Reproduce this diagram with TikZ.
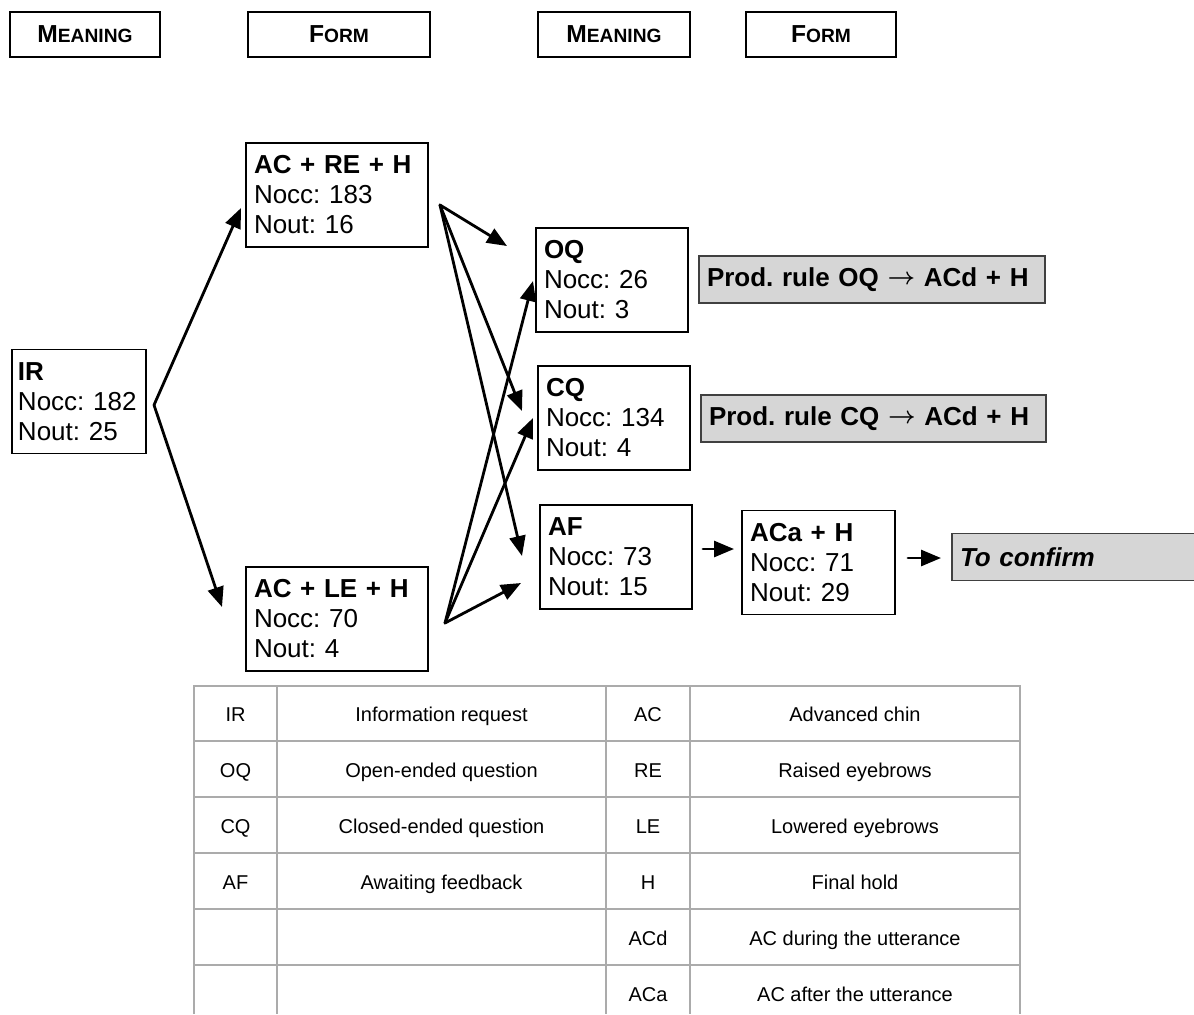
\documentclass[tikz,border=0pt]{standalone}
\usepackage{fontspec}
\setmainfont{Liberation Sans}
\usepackage{xcolor}
\usetikzlibrary{arrows.meta}
\definecolor{rulegray}{HTML}{D6D6D6}
\definecolor{gridgray}{HTML}{ABABAB}
\newcommand{\boxfont}{\frenchspacing\fontsize{13}{15}\selectfont}
\newcommand{\cellfont}{\fontsize{10}{12}\selectfont}
\newcommand{\capsfake}[2]{\textbf{{\fontsize{12.3}{14}\selectfont #1}{\fontsize{9.6}{12}\selectfont #2}}}
\newcommand{\rulearrow}{\raisebox{0.8pt}{\boldmath$\rightarrow$}}

\begin{document}
\begin{tikzpicture}[x=0.5pt, y=-0.5pt,
  head/.style={draw, line width=0.7pt, minimum height=22.5pt},
  box/.style={draw, line width=0.7pt, align=left, inner sep=4pt, minimum height=52pt, font=\boxfont},
  rulebox/.style={draw=black!75, fill=rulegray, line width=0.7pt, align=left, inner xsep=4pt, inner ysep=4pt, minimum height=23.5pt, font=\boxfont\bfseries},
  cell/.style={font=\cellfont, anchor=base},
  tablerule/.style={draw=gridgray, line width=0.6pt},
  link/.style={-{Triangle[length=10pt,width=8pt]}, line width=1.4pt, line cap=round}]
  \useasboundingbox (0,0) rectangle (1194,1014);
  \clip (0,0) rectangle (1194,1014);

  % column headers
  \node[head, minimum width=75pt] (mean1) at (85,34.5) {\capsfake{M}{EANING}};
  \node[head, minimum width=91pt] (form1) at (339,34.5) {\capsfake{F}{ORM}};
  \node[head, minimum width=76pt] (mean2) at (614,34.5) {\capsfake{M}{EANING}};
  \node[head, minimum width=75pt] (form2) at (821,34.5) {\capsfake{F}{ORM}};

  % meaning / form boxes
  \node[box, inner xsep=3pt, text width=61pt] (ir) at (79,401.5) {\textbf{IR}\\Nocc: 182\\Nout: 25};
  \node[box, text width=83pt] (acre) at (337,195) {\textbf{AC + RE + H}\\Nocc: 183\\Nout: 16};
  \node[box, text width=83pt] (acle) at (337,619) {\textbf{AC + LE + H}\\Nocc: 70\\Nout: 4};
  \node[box, text width=68pt] (oq) at (612,280) {\textbf{OQ}\\Nocc: 26\\Nout: 3};
  \node[box, text width=68pt] (cq) at (614,418) {\textbf{CQ}\\Nocc: 134\\Nout: 4};
  \node[box, text width=68pt] (af) at (616,557) {\textbf{AF}\\Nocc: 73\\Nout: 15};
  \node[box, text width=68.5pt] (aca) at (818.5,562.5) {\textbf{ACa + H}\\Nocc: 71\\Nout: 29};

  % production rules
  \node[rulebox, text width=165pt] (ruleoq) at (872,279.5) {\mbox{Prod. rule OQ \rulearrow{} ACd + H}};
  \node[rulebox, text width=164.5pt] (rulecq) at (873.5,418.5) {\mbox{Prod. rule CQ \rulearrow{} ACd + H}};
  \node[rulebox, text width=141pt] (confirm) at (1101,557) {\itshape To confirm};

  % arrow ends
  \coordinate (irfan) at (154,405);
  \coordinate (acrein) at (241,208);
  \coordinate (aclein) at (222,607);
  \coordinate (acrefan) at (440,205);
  \coordinate (aclefan) at (445,623);
  \coordinate (oqinA) at (507,246);
  \coordinate (oqinB) at (533,281);
  \coordinate (cqinA) at (522,411);
  \coordinate (cqinB) at (533,418);
  \coordinate (afinA) at (522,556);
  \coordinate (afinB) at (521,583);
  \coordinate (afout) at (703,549);
  \coordinate (acain) at (734,549);
  \coordinate (acaout) at (908,558);
  \coordinate (confirmin) at (941,558);

  \draw[link] (irfan) -- (acrein);
  \draw[link] (irfan) -- (aclein);
  \draw[link] (acrefan) -- (oqinA);
  \draw[link] (acrefan) -- (cqinA);
  \draw[link] (acrefan) -- (afinA);
  \draw[link] (aclefan) -- (oqinB);
  \draw[link] (aclefan) -- (cqinB);
  \draw[link] (aclefan) -- (afinB);
  \draw[link] (afout) -- (acain);
  \draw[link] (acaout) -- (confirmin);

  % legend table
  \draw[tablerule] (194,1014) -- (194,686) -- (1020,686) -- (1020,1014);
  \draw[tablerule] (194,741) -- (1020,741);
  \draw[tablerule] (194,797) -- (1020,797);
  \draw[tablerule] (194,853) -- (1020,853);
  \draw[tablerule] (194,909) -- (1020,909);
  \draw[tablerule] (194,965) -- (1020,965);
  \draw[tablerule] (277,686) -- (277,1014);
  \draw[tablerule] (606,686) -- (606,1014);
  \draw[tablerule] (690,686) -- (690,1014);

  \node[cell] (irkey) at (235.5,721) {IR};
  \node[cell] (irdef) at (441.5,721) {Information request};
  \node[cell] (oqkey) at (235.5,777) {OQ};
  \node[cell] (oqdef) at (441.5,777) {Open-ended question};
  \node[cell] (cqkey) at (235.5,833) {CQ};
  \node[cell] (cqdef) at (441.5,833) {Closed-ended question};
  \node[cell] (afkey) at (235.5,889) {AF};
  \node[cell] (afdef) at (441.5,889) {Awaiting feedback};
  \node[cell] (ackey) at (648,721) {AC};
  \node[cell] (acdef) at (855,721) {Advanced chin};
  \node[cell] (rekey) at (648,777) {RE};
  \node[cell] (redef) at (855,777) {Raised eyebrows};
  \node[cell] (lekey) at (648,833) {LE};
  \node[cell] (ledef) at (855,833) {Lowered eyebrows};
  \node[cell] (hkey) at (648,889) {H};
  \node[cell] (hdef) at (855,889) {Final hold};
  \node[cell] (acdkey) at (648,945) {ACd};
  \node[cell] (acddef) at (855,945) {AC during the utterance};
  \node[cell] (acakey) at (648,1001) {ACa};
  \node[cell] (acadef) at (855,1001) {AC after the utterance};
\end{tikzpicture}
\end{document}
